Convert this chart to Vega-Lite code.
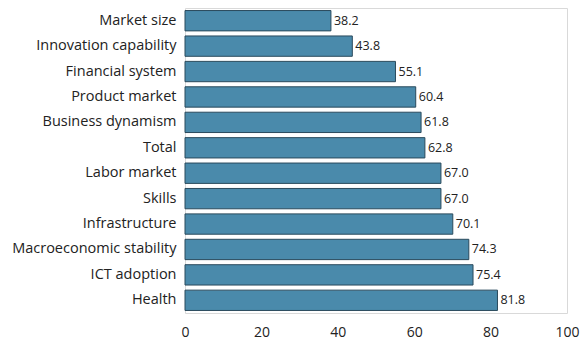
{
  "$schema": "https://vega.github.io/schema/vega-lite/v6.json",
  "autosize": {"type": "none"},
  "padding": {"left": 185, "top": 8, "right": 13, "bottom": 30},
  "width": 382,
  "height": 305,
  "background": "white",
  "config": {
    "font": "Open Sans",
    "view": {"stroke": "#d9d9d9", "strokeWidth": 1}
  },
  "data": {
    "values": [
      {"category": "Market size", "value": 38.2},
      {"category": "Innovation capability", "value": 43.8},
      {"category": "Financial system", "value": 55.1},
      {"category": "Product market", "value": 60.4},
      {"category": "Business dynamism", "value": 61.8},
      {"category": "Total", "value": 62.8},
      {"category": "Labor market", "value": 67.0},
      {"category": "Skills", "value": 67.0},
      {"category": "Infrastructure", "value": 70.1},
      {"category": "Macroeconomic stability", "value": 74.3},
      {"category": "ICT adoption", "value": 75.4},
      {"category": "Health", "value": 81.8}
    ]
  },
  "encoding": {
    "y": {
      "field": "category",
      "type": "nominal",
      "sort": null,
      "scale": {"paddingInner": 0.2, "paddingOuter": 0.1},
      "axis": {
        "title": null,
        "domain": false,
        "ticks": false,
        "labelFontSize": 14.5,
        "labelColor": "#222222",
        "labelPadding": 9
      }
    },
    "x": {
      "field": "value",
      "type": "quantitative",
      "scale": {"domain": [0, 100], "nice": false},
      "axis": {
        "title": null,
        "values": [0, 20, 40, 60, 80, 100],
        "grid": false,
        "domain": false,
        "ticks": false,
        "labelFontSize": 14,
        "labelColor": "#222222",
        "labelPadding": 12,
        "labelFlush": false
      }
    }
  },
  "layer": [
    {
      "mark": {"type": "bar", "color": "#4a8aab", "stroke": "#2a4a5c", "strokeWidth": 1}
    },
    {
      "mark": {"type": "text", "align": "left", "dx": 3, "fontSize": 12.5, "color": "#222222"},
      "encoding": {
        "text": {"field": "value", "type": "quantitative", "format": ".1f"}
      }
    }
  ]
}
